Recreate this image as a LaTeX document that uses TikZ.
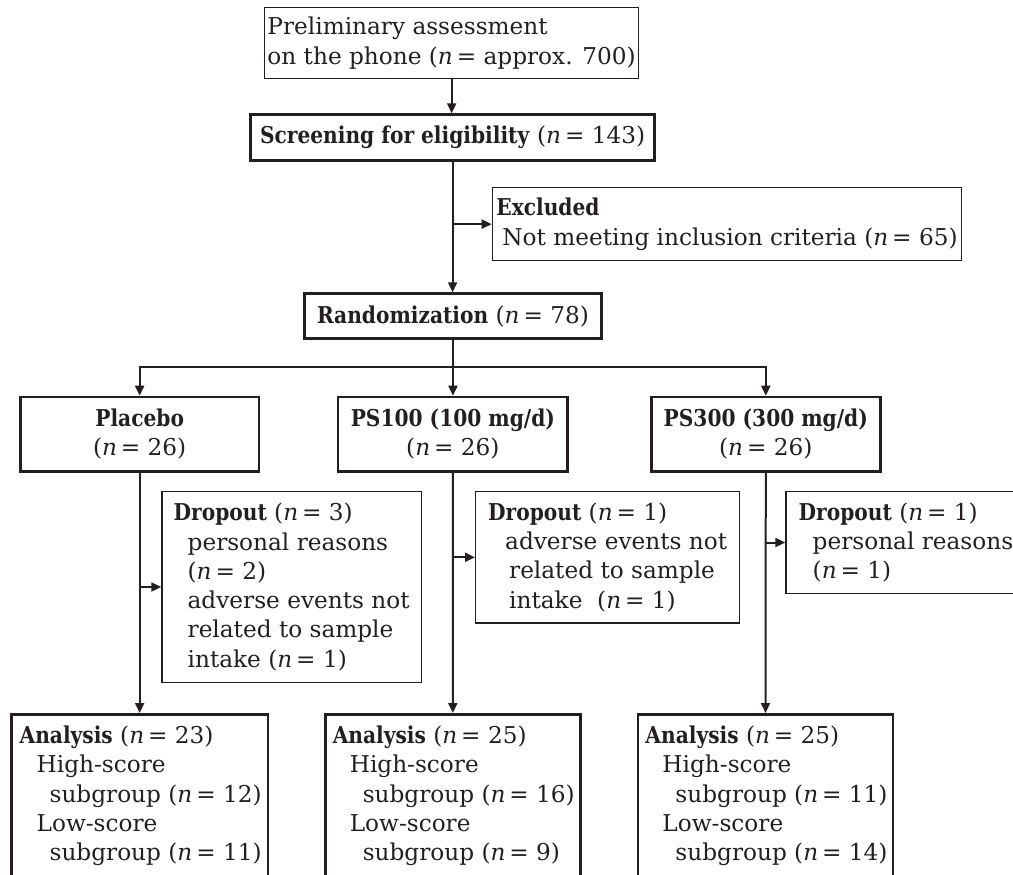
\documentclass[tikz,border=0pt]{standalone}
\usepackage{fontspec}
\setmainfont{DejaVu Serif}[BoldFeatures={FakeStretch=0.87}]
\usetikzlibrary{arrows.meta}
\definecolor{ink}{RGB}{35,31,32}
\newcommand{\nval}[1]{(\textit{n}\,=\ #1)}
\tikzset{
  boxbase/.style={draw=ink, text=ink, anchor=north west, inner sep=0pt, align=left,
    font=\fontsize{23.2}{29.3}\selectfont},
  thinbox/.style={boxbase, line width=1.3pt},
  thickbox/.style={boxbase, line width=2.6pt},
  conn/.style={draw=ink, line width=2pt},
  arr/.style={conn, -{Triangle[length=10pt,width=9pt]}},
}
\begin{document}
\begin{tikzpicture}[x=1pt,y=-1pt]
\useasboundingbox (0,0) rectangle (1013,875);
\node[thinbox, minimum width=374, minimum height=71] (pre) at (264,7)
  {Preliminary assessment\\on the phone \nval{approx. 700}};
\node[thickbox, minimum width=404, minimum height=45.7] (scr) at (249.3,113.3)
  {\textbf{Screening for eligibility} \nval{143}};
\node[thinbox, minimum width=469.3, minimum height=73] (excl) at (491.7,187)
  {\textbf{Excluded}\\\hspace*{6pt}Not meeting inclusion criteria \nval{65}};
\node[thickbox, minimum width=296.7, minimum height=45] (rand) at (303.3,292.3)
  {\textbf{Randomization} \nval{78}};
\node[thickbox, align=center, minimum width=238.7, minimum height=74.3] (plac) at (19,395.7)
  {\textbf{Placebo}\\\nval{26}};
\node[thickbox, align=center, minimum width=229.7, minimum height=74.3] (ps100) at (336.7,395.7)
  {\textbf{PS100 (100 mg/d)}\\\nval{26}};
\node[thickbox, align=center, minimum width=229, minimum height=74.3] (ps300) at (650,395.7)
  {\textbf{PS300 (300 mg/d)}\\\nval{26}};
\node[thinbox, minimum width=259.4, minimum height=190.7] (drop1) at (161.3,491)
  {\textbf{Dropout} \nval{3}\\
   \hspace*{14pt}personal reasons\\
   \hspace*{14pt}\nval{2}\\
   \hspace*{14pt}adverse events not\\
   \hspace*{14pt}related to sample\\
   \hspace*{14pt}intake \nval{1}};
\node[thinbox, minimum width=264, minimum height=131.3] (drop2) at (475,491)
  {\textbf{Dropout} \nval{1}\\
   \hspace*{17pt}adverse events not\\
   \hspace*{21pt}related to sample\\
   \hspace*{21pt}intake\ \ \nval{1}};
\node[thinbox, minimum width=240, minimum height=101.7] (drop3) at (785.3,491)
  {\textbf{Dropout} \nval{1}\\
   \hspace*{14pt}personal reasons\\
   \hspace*{14pt}\nval{1}};
\node[thickbox, minimum width=256.7, minimum height=163] (ana1) at (10,713)
  {\hspace*{2pt}\textbf{Analysis} \nval{23}\\
   \hspace*{19pt}High-score\\
   \hspace*{32pt}subgroup \nval{12}\\
   \hspace*{19pt}Low-score\\
   \hspace*{32pt}subgroup \nval{11}};
\node[thickbox, minimum width=255, minimum height=163] (ana2) at (324,713)
  {\hspace*{2pt}\textbf{Analysis} \nval{25}\\
   \hspace*{19pt}High-score\\
   \hspace*{32pt}subgroup \nval{16}\\
   \hspace*{19pt}Low-score\\
   \hspace*{32pt}subgroup \nval{9}};
\node[thickbox, minimum width=255, minimum height=163] (ana3) at (636.7,713)
  {\hspace*{2pt}\textbf{Analysis} \nval{25}\\
   \hspace*{19pt}High-score\\
   \hspace*{32pt}subgroup \nval{11}\\
   \hspace*{19pt}Low-score\\
   \hspace*{32pt}subgroup \nval{14}};
\coordinate (split) at (rand.south |- 0,366.7);
\draw[arr] (pre.south) -- (pre.south |- scr.north);
\draw[arr] (scr.south) -- (scr.south |- rand.north);
\draw[arr] (scr.south |- excl.west) -- (excl.west);
\draw[conn] (rand.south) -- (split);
\draw[arr] (split) -- (split |- ps100.north);
\draw[arr] (split) -| (plac.north);
\draw[arr] (split) -| (ps300.north);
\draw[arr] (plac.south) -- (ana1.north);
\draw[arr] (plac.south |- drop1.west) -- (drop1.west);
\draw[arr] (ps100.south) -- (ana2.north);
\draw[arr] (ps100.south |- drop2.west) -- (drop2.west);
\draw[arr] (ps300.south) -- (ana3.north);
\draw[arr] (ps300.south |- drop3.west) -- (drop3.west);
\end{tikzpicture}
\end{document}
